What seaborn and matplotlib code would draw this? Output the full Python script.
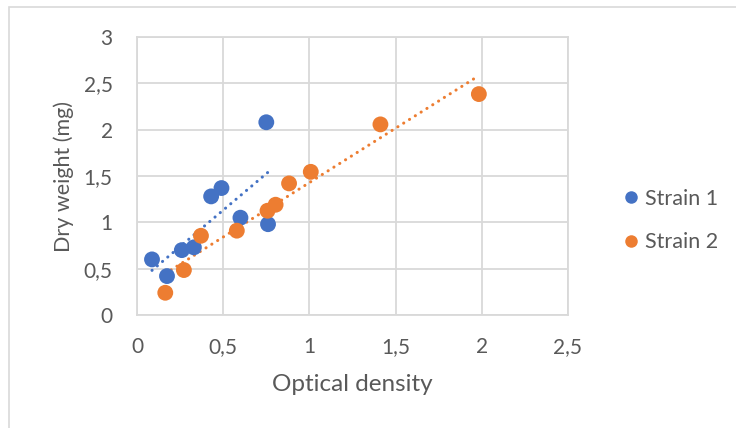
import matplotlib
matplotlib.use("Agg")
import matplotlib.pyplot as plt
import matplotlib.patches as mpatches
from matplotlib.lines import Line2D
import pandas as pd
import seaborn as sns

# Measurements: optical density vs. dry weight for two strains
strain1_od = [0.087, 0.174, 0.26, 0.33, 0.43, 0.49, 0.60, 0.75, 0.76]
strain1_dw = [0.60, 0.42, 0.70, 0.73, 1.28, 1.37, 1.05, 2.08, 0.98]
strain2_od = [0.164, 0.272, 0.371, 0.579, 0.757, 0.804, 0.882, 1.008, 1.412, 1.983]
strain2_dw = [0.24, 0.485, 0.855, 0.91, 1.125, 1.19, 1.42, 1.545, 2.057, 2.384]

series_names = ["Strain 1", "Strain 2"]
series_colors = ["#4472C4", "#ED7D31"]

x_ticks = [0, 0.5, 1, 1.5, 2, 2.5]
x_tick_labels = ["0", "0,5", "1", "1,5", "2", "2,5"]
y_ticks = [0, 0.5, 1, 1.5, 2, 2.5, 3]
y_tick_labels = ["0", "0,5", "1", "1,5", "2", "2,5", "3"]

df = pd.DataFrame({
    "od": strain1_od + strain2_od,
    "dw": strain1_dw + strain2_dw,
    "strain": [series_names[0]] * len(strain1_od) + [series_names[1]] * len(strain2_od),
})

sns.set_theme(style="white")
plt.rcParams["font.family"] = ["Lato", "DejaVu Sans"]

text_color = "#595959"
grid_color = "#D9D9D9"

fig = plt.figure(figsize=(7.36, 4.28), dpi=100)
fig.patch.set_facecolor("white")

# chart-area border
fig.add_artist(mpatches.Rectangle((9 / 736, -0.05), 1.1, 1 - 7 / 428 + 0.05,
                                  transform=fig.transFigure, fill=False,
                                  edgecolor=grid_color, linewidth=1.2))

ax = fig.add_axes([137 / 736, 1 - 315 / 428, (568 - 137) / 736, (315 - 37) / 428])

ax.set_axisbelow(True)
ax.grid(True, color=grid_color, linewidth=1.3)
for sp in ax.spines.values():
    sp.set_color(grid_color)
    sp.set_linewidth(1.3)

palette = dict(zip(series_names, series_colors))

# linear trendlines over each strain's data range
for name, color in zip(series_names, series_colors):
    sub = df[df["strain"] == name]
    sns.regplot(data=sub, x="od", y="dw", ax=ax, scatter=False, ci=None, truncate=True,
                line_kws=dict(color=color, linestyle=(0, (0.05, 2.2)), linewidth=2.2,
                              dash_capstyle="round"))

sns.scatterplot(data=df, x="od", y="dw", hue="strain", palette=palette, ax=ax,
                s=130, edgecolor="none", linewidth=0, legend=False, zorder=3)

ax.set_xlim(0, 2.5)
ax.set_ylim(0, 3)
ax.set_xticks(x_ticks)
ax.set_xticklabels(x_tick_labels)
ax.set_yticks(y_ticks)
ax.set_yticklabels(y_tick_labels)
ax.tick_params(axis="both", length=0, labelsize=15, labelcolor=text_color)
ax.tick_params(axis="x", pad=16)
ax.tick_params(axis="y", pad=17.5)

ax.set_xlabel("Optical density", fontsize=17.5, color=text_color, labelpad=12)
ax.set_ylabel("Dry weight (mg)", fontsize=15.5, color=text_color, labelpad=7)

handles = [Line2D([0], [0], marker="o", linestyle="none", markersize=9,
                  markerfacecolor=c, markeredgecolor="none") for c in series_colors]
fig.legend(handles, series_names, loc="center left",
           bbox_to_anchor=(622 / 736, 1 - 220.5 / 428),
           frameon=False, fontsize=15.5, labelcolor=text_color, borderpad=0,
           borderaxespad=0, handlelength=0.8, handletextpad=0.25, labelspacing=1.09)

fig.savefig("out.png", dpi=100, facecolor="white")
